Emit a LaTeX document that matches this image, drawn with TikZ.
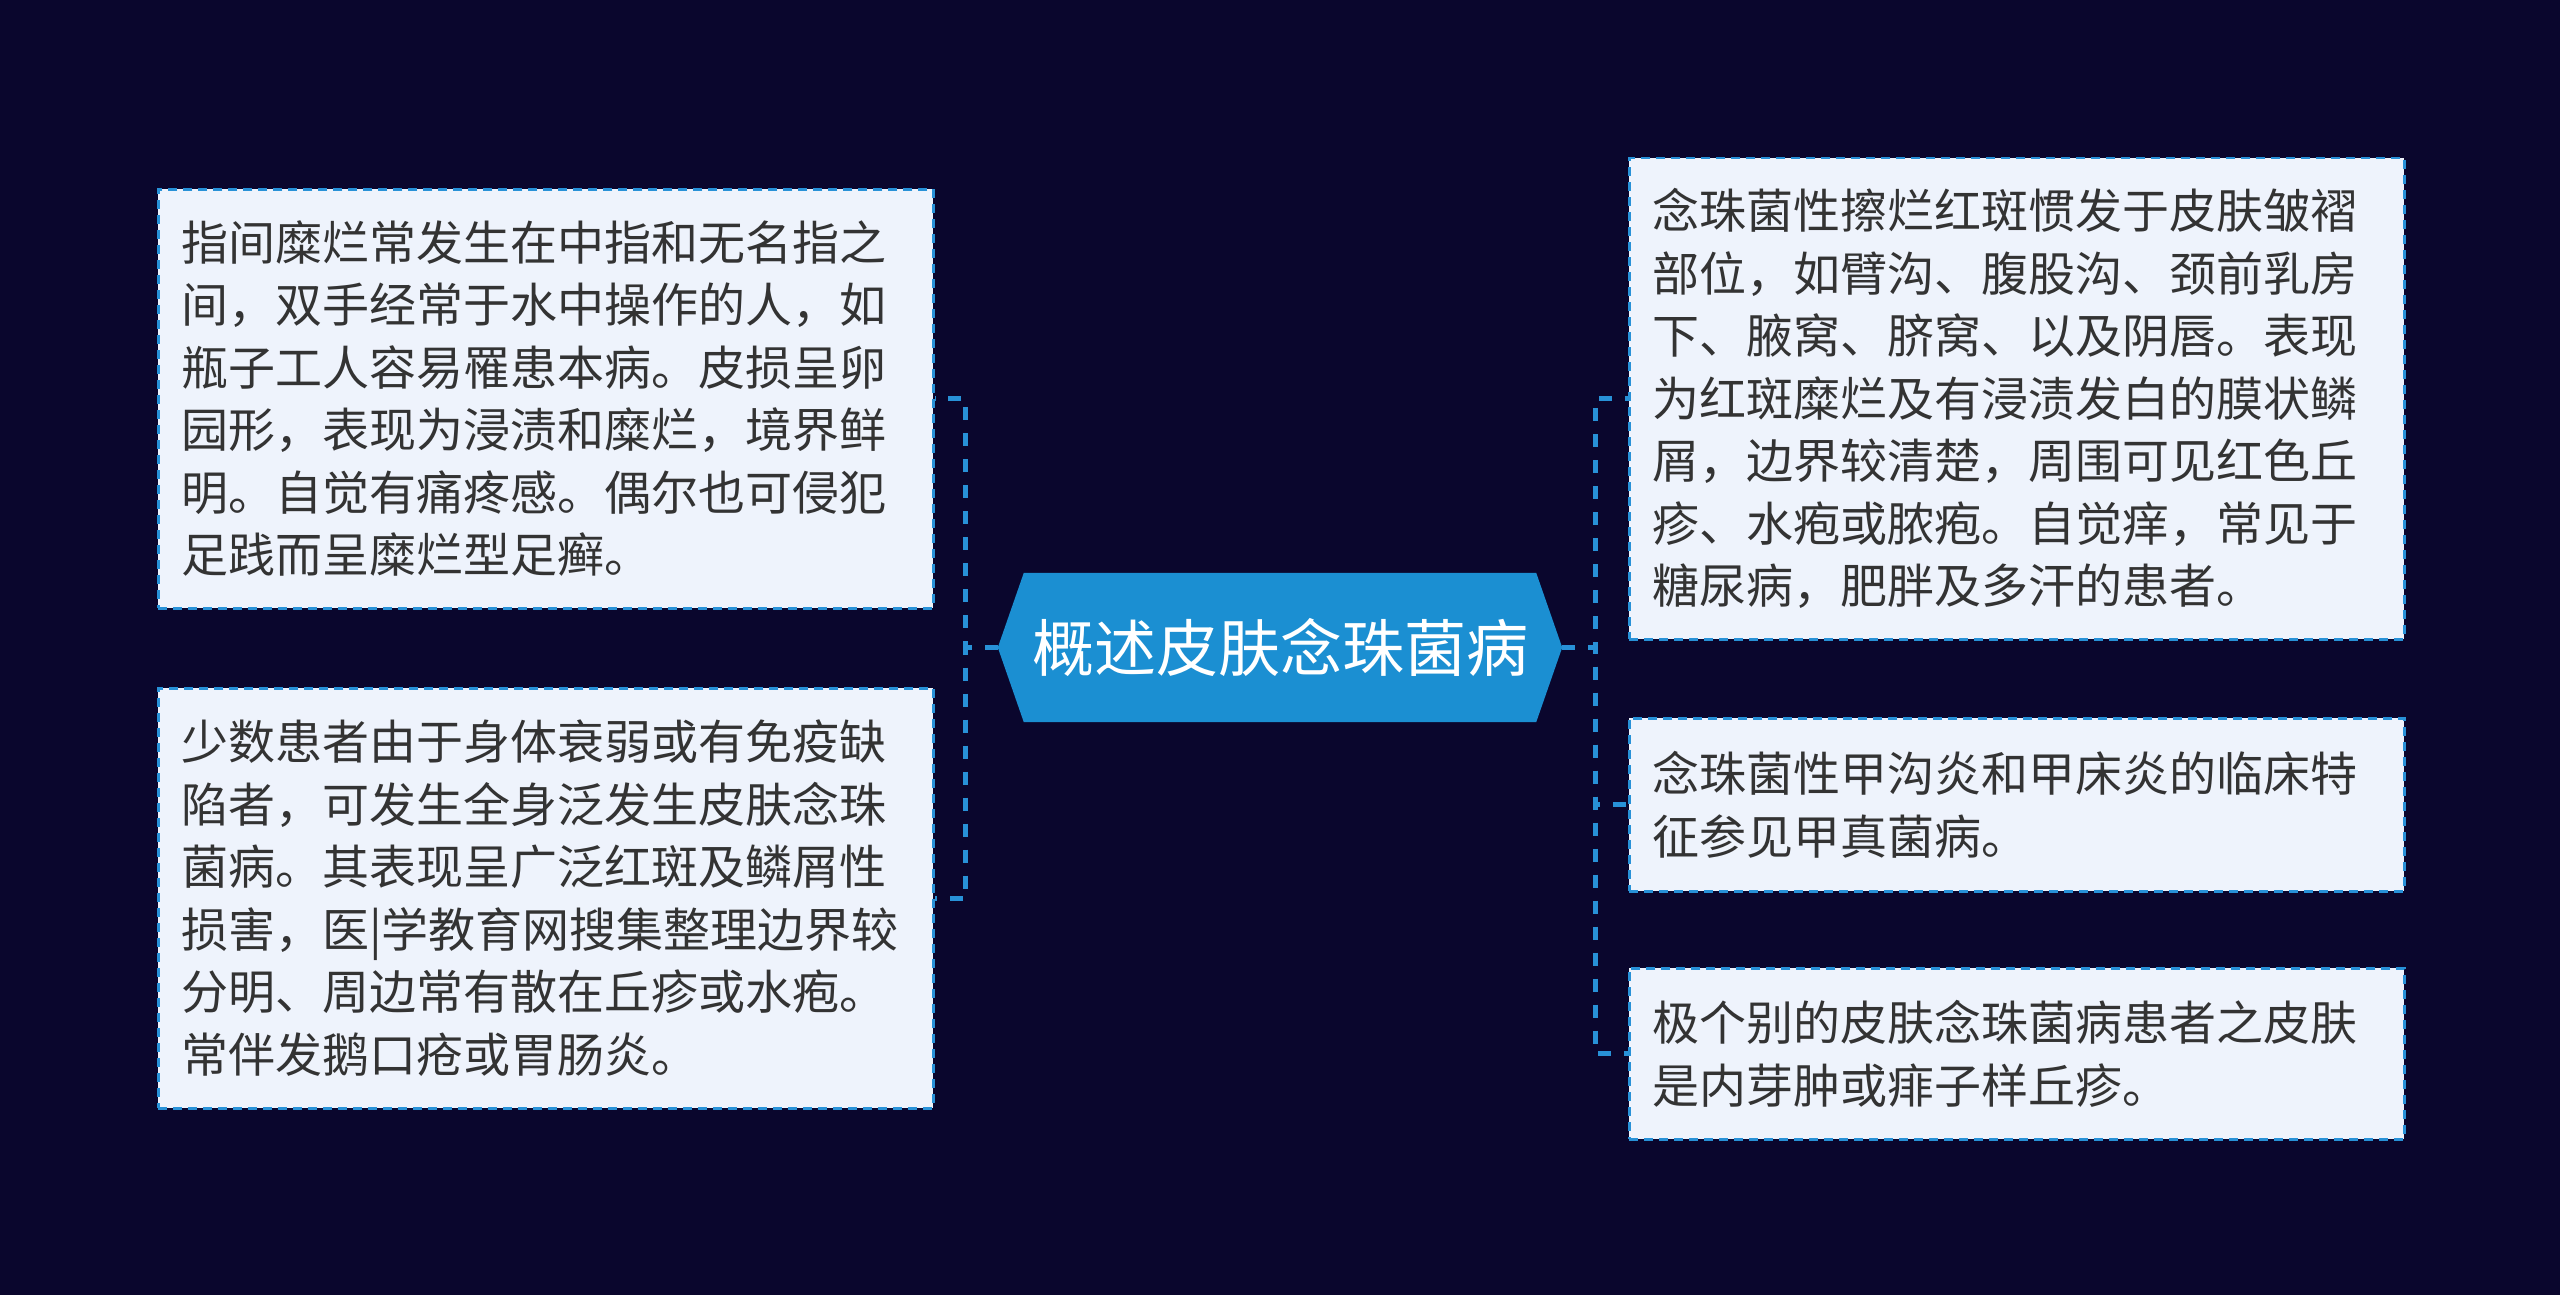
\documentclass[tikz,border=0pt]{standalone}
\usepackage{fontspec}
\setmainfont{Noto Sans CJK SC}
\usetikzlibrary{backgrounds}
\definecolor{bgc}{RGB}{10,6,45}
\definecolor{linec}{RGB}{40,145,215}
\definecolor{hexc}{RGB}{27,143,210}
\definecolor{boxc}{RGB}{238,243,252}
\definecolor{txtc}{RGB}{51,51,51}
\begin{document}
\begin{tikzpicture}[x=1pt,y=-1pt,
  box/.style={draw=linec, line width=2.5pt, dash pattern=on 9pt off 6pt, fill=boxc, text=txtc,
    minimum width=775pt, text width=729pt, align=left, inner sep=0pt, anchor=north west,
    font=\fontsize{47}{62.5}\selectfont},
  conn/.style={draw=linec, line width=4.8pt, dash pattern=on 13pt off 13pt}]
\useasboundingbox (0,0) rectangle (2560,1295);

\node[box, minimum height=419pt] (l1) at (157,188) {指间糜烂常发生在中指和无名指之\\间，双手经常于水中操作的人，如\\瓶子工人容易罹患本病。皮损呈卵\\园形，表现为浸渍和糜烂，境界鲜\\明。自觉有痛疼感。偶尔也可侵犯\\足践而呈糜烂型足癣。};
\node[box, minimum height=420pt] (l2) at (157,687) {少数患者由于身体衰弱或有免疫缺\\陷者，可发生全身泛发生皮肤念珠\\菌病。其表现呈广泛红斑及鳞屑性\\损害，医|学教育网搜集整理边界较\\分明、周边常有散在丘疹或水疱。\\常伴发鹅口疮或胃肠炎。};
\node[box, minimum height=481pt] (r1) at (1628,157) {念珠菌性擦烂红斑惯发于皮肤皱褶\\部位，如臂沟、腹股沟、颈前乳房\\下、腋窝、脐窝、以及阴唇。表现\\为红斑糜烂及有浸渍发白的膜状鳞\\屑，边界较清楚，周围可见红色丘\\疹、水疱或脓疱。自觉痒，常见于\\糖尿病，肥胖及多汗的患者。};
\node[box, minimum height=173pt] (r2) at (1628,717) {念珠菌性甲沟炎和甲床炎的临床特\\征参见甲真菌病。};
\node[box, minimum height=171pt] (r3) at (1628,967) {极个别的皮肤念珠菌病患者之皮肤\\是内芽肿或痱子样丘疹。};

\node[font=\fontsize{62}{70}\selectfont, text=white, minimum width=512pt, minimum height=149pt, inner sep=0pt] (c) at (1280,647.5) {概述皮肤念珠菌病};
\coordinate (tl) at ([xshift=-26pt]c.west);
\coordinate (tr) at ([xshift=26pt]c.east);

\begin{scope}[on background layer]
\fill[bgc] (0,0) rectangle (2560,1295);
\fill[hexc] (c.north west) -- (c.north east) -- (tr) -- (c.south east) -- (c.south west) -- (tl) -- cycle;
\end{scope}

\draw[conn] (tl) -- ++(-32,0) |- (l1.east);
\draw[conn] (tl) -- ++(-32,0) |- (l2.east);
\draw[conn] (tr) -- ++(33,0) |- (r1.west);
\draw[conn] (tr) -- ++(33,0) |- (r2.west);
\draw[conn] (tr) -- ++(33,0) |- (r3.west);
\end{tikzpicture}
\end{document}
